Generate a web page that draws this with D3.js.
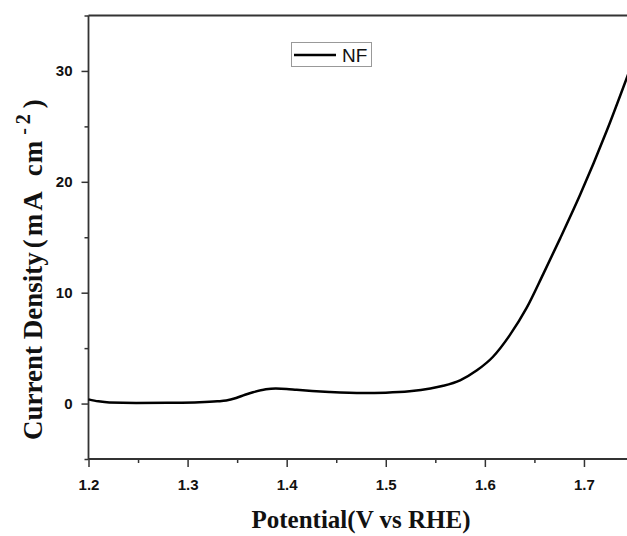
<!DOCTYPE html>
<html>
<head>
<meta charset="utf-8">
<script src="https://cdn.jsdelivr.net/npm/d3@7"></script>
<style>
  html, body { margin: 0; padding: 0; background: #fff; }
  svg { display: block; }
</style>
</head>
<body>
<svg id="chart" width="627" height="536"></svg>
<script>
// Data (LSV curve of NF)
const potential = [1.200, 1.210, 1.221, 1.248, 1.280, 1.312, 1.330, 1.339, 1.349, 1.358, 1.366, 1.379, 1.389, 1.400, 1.410, 1.443, 1.477, 1.500, 1.524, 1.545, 1.558, 1.575, 1.592, 1.608, 1.625, 1.642, 1.659, 1.676, 1.696, 1.723, 1.745];
const current   = [0.38, 0.20, 0.09, 0.05, 0.07, 0.12, 0.20, 0.27, 0.50, 0.80, 1.02, 1.29, 1.36, 1.32, 1.24, 1.05, 0.95, 0.98, 1.10, 1.35, 1.60, 2.10, 3.00, 4.20, 6.15, 8.60, 11.70, 14.90, 18.80, 24.60, 29.80];
const seriesName = "NF";
const xMajorTicks = [1.2, 1.3, 1.4, 1.5, 1.6, 1.7];
const xMinorTicks = [1.25, 1.35, 1.45, 1.55, 1.65, 1.75];
const yMajorTicks = [0, 10, 20, 30];
const yMinorTicks = [-5, 5, 15, 25, 35];

(function () {
const svg = d3.select("#chart");
const mLeft = 88.5, mRight = 633.5, mTop = 15.5, mBottom = 459;
const x = d3.scaleLinear().domain([1.2, 1.75]).range([mLeft, mRight]);
const y = d3.scaleLinear().domain([-5, 35]).range([mBottom, mTop]);

const axisColor = "#333";
const tickFont = "'Liberation Sans', Arial, sans-serif";

const g = svg.append("g");

// X axis
const xAxis = g.append("g").attr("transform", `translate(0,${mBottom})`)
  .call(d3.axisBottom(x).tickValues(xMajorTicks).tickSize(8).tickSizeOuter(0).tickFormat(d3.format(".1f")));
xAxis.select(".domain").remove();
xAxis.selectAll(".tick line").attr("stroke", axisColor).attr("stroke-width", 1.5);
xAxis.selectAll(".tick text").attr("font-family", tickFont).attr("font-weight", "bold")
  .attr("font-size", 15).attr("fill", "#111").attr("dy", "1.3em");
const xMinor = g.append("g").attr("transform", `translate(0,${mBottom})`)
  .call(d3.axisBottom(x).tickValues(xMinorTicks).tickSize(4).tickSizeOuter(0).tickFormat(""));
xMinor.select(".domain").remove();
xMinor.selectAll(".tick line").attr("stroke", axisColor).attr("stroke-width", 1.5);

// Y axis
const yAxis = g.append("g").attr("transform", `translate(${mLeft},0)`)
  .call(d3.axisLeft(y).tickValues(yMajorTicks).tickSize(7).tickSizeOuter(0).tickFormat(d3.format("d")));
yAxis.select(".domain").remove();
yAxis.selectAll(".tick line").attr("stroke", axisColor).attr("stroke-width", 1.5);
yAxis.selectAll(".tick text").attr("font-family", tickFont).attr("font-weight", "bold")
  .attr("font-size", 15).attr("fill", "#111").attr("x", -16);
const yMinor = g.append("g").attr("transform", `translate(${mLeft},0)`)
  .call(d3.axisLeft(y).tickValues(yMinorTicks).tickSize(4).tickSizeOuter(0).tickFormat(""));
yMinor.select(".domain").remove();
yMinor.selectAll(".tick line").attr("stroke", axisColor).attr("stroke-width", 1.5);

// axis lines
g.append("line").attr("x1", mLeft).attr("x2", 627).attr("y1", mBottom).attr("y2", mBottom)
  .attr("stroke", axisColor).attr("stroke-width", 1.8);
g.append("line").attr("x1", mLeft).attr("x2", 627).attr("y1", y(35)).attr("y2", y(35))
  .attr("stroke", axisColor).attr("stroke-width", 1.8);
g.append("line").attr("x1", mLeft).attr("x2", mLeft).attr("y1", y(35)).attr("y2", mBottom)
  .attr("stroke", axisColor).attr("stroke-width", 1.8);

// curve
const data = potential.map((v, i) => ({ v, j: current[i] }));
g.append("path").datum(data)
  .attr("fill", "none").attr("stroke", "#000").attr("stroke-width", 2.5)
  .attr("stroke-linejoin", "round")
  .attr("d", d3.line().x(d => x(d.v)).y(d => y(d.j)).curve(d3.curveMonotoneX));

// legend
const lg = g.append("g");
lg.append("rect").attr("x", 291.5).attr("y", 42.5).attr("width", 80).attr("height", 24)
  .attr("fill", "#fff").attr("stroke", "#999").attr("stroke-width", 1);
lg.append("line").attr("x1", 294).attr("x2", 336).attr("y1", 55).attr("y2", 55)
  .attr("stroke", "#000").attr("stroke-width", 2.6);
lg.append("text").attr("x", 342).attr("y", 62).text(seriesName)
  .attr("font-family", tickFont).attr("font-size", 19).attr("fill", "#111");

// axis titles
const titleFont = "'Liberation Serif', 'Times New Roman', serif";
svg.append("text").attr("x", 361).attr("y", 528).attr("text-anchor", "middle")
  .attr("font-family", titleFont).attr("font-weight", "bold").attr("font-size", 25).attr("fill", "#111")
  .text("Potential(V vs RHE)");

const yt = svg.append("text").attr("transform", "translate(42,440) rotate(-90)")
  .attr("font-family", titleFont).attr("font-weight", "bold").attr("font-size", 27).attr("fill", "#111");
yt.append("tspan").text("Current Density");
yt.append("tspan").attr("dx", 4).attr("letter-spacing", 3).text("(mA");
yt.append("tspan").attr("dx", 12).attr("letter-spacing", 1).text("cm");
yt.append("tspan").attr("font-size", 20).attr("dy", -12).attr("dx", 5).attr("letter-spacing", 4).text("-2");
yt.append("tspan").attr("dy", 12).attr("dx", 2).text(")");
})();
</script>
</body>
</html>
